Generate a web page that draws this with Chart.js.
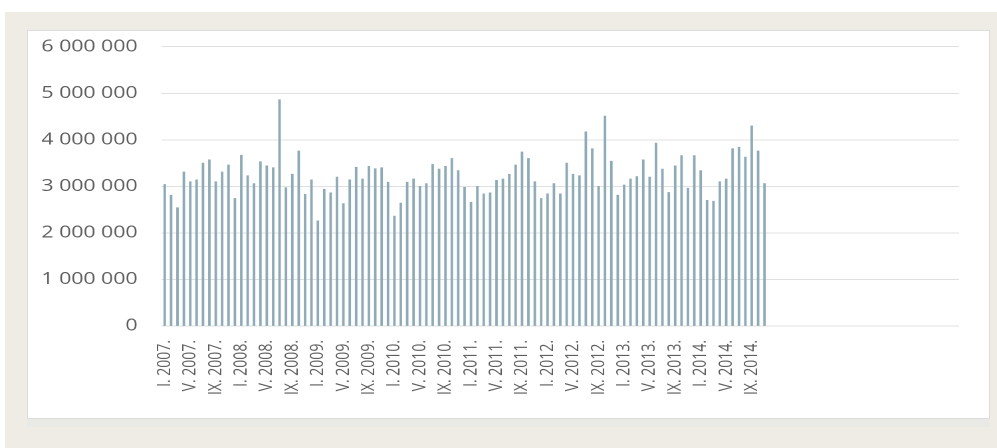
<!DOCTYPE html>
<html>
<head>
<meta charset="utf-8">
<script src="https://cdn.jsdelivr.net/npm/chart.js@4"></script>
<style>
  html, body { margin: 0; padding: 0; background: #ffffff; width: 997px; height: 448px; overflow: hidden; }
  #outer { position: absolute; left: 5px; top: 12px; width: 992px; height: 436px; background: #eeece4; }
  #band { position: absolute; left: 27px; top: 419px; width: 963px; height: 8px; background: #e9e9e5; }
  #panel { position: absolute; left: 27px; top: 30px; width: 961px; height: 387px; background: #ffffff; border: 1px solid #dcdcdc; }
  #wrap { position: absolute; left: 0; top: 0; width: 750px; height: 448px; transform: scaleX(1.32933); transform-origin: 0 0; }
</style>
</head>
<body>
<div id="outer"></div>
<div id="band"></div>
<div id="panel"></div>
<div id="wrap"><canvas id="c"></canvas></div>
<script>
// Category parts
const romanMonths = ['I','II','III','IV','V','VI','VII','VIII','IX','X','XI','XII'];
const years = [2007, 2008, 2009, 2010, 2011, 2012, 2013, 2014];
const lastMonthCount = 95;          // I. 2007. ... XI. 2014.
const emptySlots = 30;              // blank categories kept on the axis after the data

// Monthly values
const values = [
  3040000, 2810000, 2540000, 3310000, 3100000, 3140000, 3500000, 3570000, 3100000, 3310000, 3460000, 2740000,
  3670000, 3230000, 3060000, 3530000, 3440000, 3400000, 4860000, 2970000, 3260000, 3760000, 2830000, 3140000,
  2260000, 2940000, 2860000, 3200000, 2630000, 3140000, 3410000, 3160000, 3430000, 3380000, 3400000, 3090000,
  2360000, 2640000, 3090000, 3160000, 3000000, 3060000, 3470000, 3370000, 3430000, 3600000, 3340000, 2980000,
  2660000, 3000000, 2840000, 2860000, 3130000, 3160000, 3260000, 3460000, 3740000, 3600000, 3100000, 2740000,
  2840000, 3060000, 2840000, 3500000, 3260000, 3230000, 4170000, 3810000, 3000000, 4510000, 3540000, 2810000,
  3030000, 3160000, 3210000, 3570000, 3200000, 3930000, 3370000, 2870000, 3440000, 3660000, 2960000, 3660000,
  3340000, 2700000, 2680000, 3100000, 3160000, 3810000, 3840000, 3630000, 4300000, 3760000, 3060000
];

// Y tick values
const yTicks = [0, 1000000, 2000000, 3000000, 4000000, 5000000, 6000000];

const labels = [];
years.forEach(y => romanMonths.forEach(m => labels.push(m + '. ' + y + '.')));
labels.length = lastMonthCount;
for (let i = 0; i < emptySlots; i++) labels.push('');

const fmt = v => String(v).replace(/\B(?=(\d{3})+(?!\d))/g, ' ');

new Chart(document.getElementById('c'), {
  type: 'bar',
  data: {
    labels: labels,
    datasets: [{
      data: values,
      backgroundColor: '#8eaab7',
      borderWidth: 0,
      barThickness: 1.25
    }]
  },
  options: {
    responsive: true,
    maintainAspectRatio: false,
    animation: false,
    devicePixelRatio: 2,
    layout: { padding: { left: 0, top: 46.7, right: 27.8, bottom: 0 } },
    plugins: { legend: { display: false }, tooltip: { enabled: false } },
    scales: {
      x: {
        grid: { display: false, drawTicks: false },
        border: { display: false },
        afterFit: s => { s.height = 122; },
        ticks: {
          autoSkip: false,
          minRotation: 90,
          maxRotation: 90,
          padding: 14,
          color: '#5e5e5e',
          font: { family: 'Open Sans', size: 14 },
          callback: function (v, i) { return i % 4 === 0 ? this.getLabelForValue(v) : ''; }
        }
      },
      y: {
        min: yTicks[0],
        max: yTicks[yTicks.length - 1],
        afterFit: s => { s.width = 121.5; },
        afterBuildTicks: s => { s.ticks = yTicks.map(v => ({ value: v })); },
        grid: { color: '#e0e0e0', lineWidth: 1, drawTicks: false },
        border: { display: false },
        ticks: {
          padding: 18,
          color: '#5e5e5e',
          font: { family: 'Open Sans', size: 16 },
          callback: v => fmt(v)
        }
      }
    }
  }
});
</script>
</body>
</html>
